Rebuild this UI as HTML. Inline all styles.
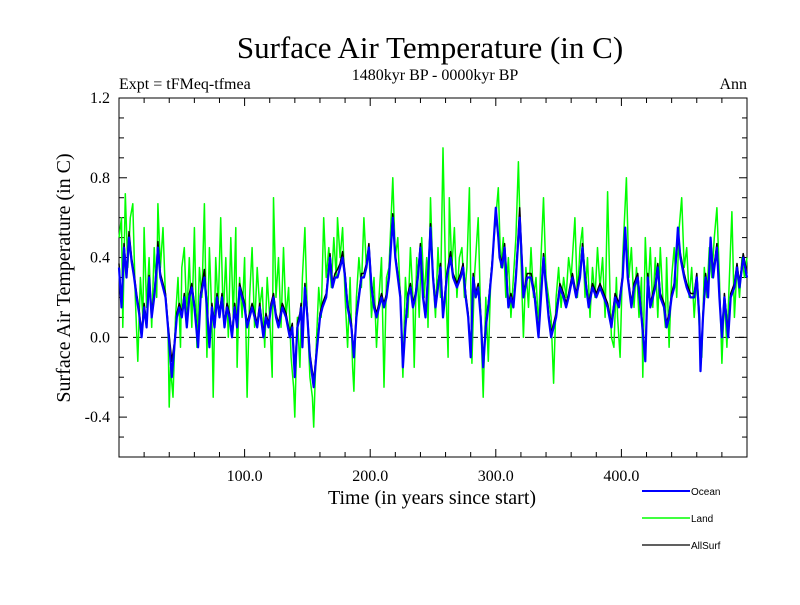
<!DOCTYPE html>
<html><head><meta charset="utf-8"><style>
body{margin:0;background:#fff}
svg text{font-family:"Liberation Serif",serif;fill:#000}
</style></head><body>
<svg width="800" height="600" xmlns="http://www.w3.org/2000/svg">
<text x="430" y="58" font-size="31" text-anchor="middle">Surface Air Temperature (in C)</text>
<text x="435" y="80" font-size="16" text-anchor="middle">1480kyr BP - 0000kyr BP</text>
<text x="119" y="89" font-size="16">Expt = tFMeq-tfmea</text>
<text x="747" y="89" font-size="16" text-anchor="end">Ann</text>
<text transform="translate(70,278) rotate(-90)" font-size="20" text-anchor="middle">Surface Air Temperature (in C)</text>
<text x="432" y="504" font-size="20" text-anchor="middle">Time (in years since start)</text>
<g id="axes"></g>
<g id="series"></g>
<g>
<line x1="642" y1="491" x2="690" y2="491" stroke="#0000ff" stroke-width="2"/>
<text x="691" y="495" font-size="10" style="font-family:'Liberation Sans',sans-serif">Ocean</text>
<line x1="642" y1="518" x2="690" y2="518" stroke="#00ff00" stroke-width="1.5"/>
<text x="691" y="522" font-size="10" style="font-family:'Liberation Sans',sans-serif">Land</text>
<line x1="642" y1="545" x2="690" y2="545" stroke="#000" stroke-width="1.2"/>
<text x="691" y="549" font-size="10" style="font-family:'Liberation Sans',sans-serif">AllSurf</text>
</g>
</svg>
<script>
const xTicks=[100,200,300,400];
const xTickLabels=["100.0","200.0","300.0","400.0"];
const yTicks=[-0.4,0,0.4,0.8,1.2];
const yTickLabels=["-0.4","0.0","0.4","0.8","1.2"];
const landYears=[0,2,3,5,7,9,11,13,15,17,19,20,22,24,26,28,30,31,33,35,37,39,40,41,43,45,47,49,50,52,54,56,58,60,62,64,66,68,70,72,74,75,77,79,81,83,85,87,89,91,93,94,96,98,100,102,104,106,108,110,112,114,116,118,120,122,123,125,127,129,131,133,135,137,139,140,142,144,146,148,150,152,154,155,157,159,161,163,165,167,169,171,173,174,176,178,180,182,184,186,187,189,191,193,195,197,199,201,203,205,207,209,211,213,215,218,220,222,224,226,228,230,232,234,235,237,239,241,243,245,246,248,250,252,254,256,258,260,262,263,265,267,269,271,273,275,277,279,281,283,286,288,290,292,294,296,298,300,302,304,306,308,310,312,314,316,318,320,322,324,326,328,330,332,334,336,338,340,342,344,346,348,350,352,354,356,358,360,363,365,367,369,371,373,375,377,379,381,383,385,387,389,391,392,394,396,397,399,401,404,406,408,410,412,414,416,417,419,421,423,425,427,429,431,433,435,436,438,440,442,444,446,448,450,452,454,456,458,460,462,464,466,468,470,472,474,476,478,480,482,484,486,488,490,492,494,496,498,500];
const landValues=[.5,.6,.05,.72,.35,.6,.67,.2,-.12,.3,.1,.55,.15,.4,.05,.45,.2,.67,.35,.55,.2,.05,-.35,-.15,-.3,.1,.3,-.05,.35,.45,.1,.4,.05,.55,-.05,.35,.2,.67,-.1,.45,.1,-.3,.4,.15,.6,.1,.4,0,.5,.1,.55,-.15,.3,.1,.4,-.3,.2,.45,.05,.35,.15,.25,-.05,.3,.1,-.2,.7,.2,.4,.05,.45,.1,.25,-.1,-.25,-.4,.1,-.15,.3,.55,.1,-.2,-.3,-.45,-.05,.25,.1,.6,.3,.45,.25,.5,.3,.6,.4,.55,.2,-.05,.3,-.15,-.27,.2,.4,.25,.6,.35,.45,.1,.3,-.05,.2,.4,-.25,.3,.35,.8,.4,.5,.2,-.2,.3,.1,.45,.2,-.15,.4,.1,.5,.2,.4,.05,.7,.3,.1,.45,.2,.95,.3,-.1,.7,.35,.55,.2,.4,.45,.2,.35,.75,-.13,.3,.6,.1,-.3,.2,-.12,.3,.45,.6,.75,.35,.5,.2,.4,.1,.3,.5,.88,.4,0,.35,.15,.45,.2,.3,.05,.4,.7,.3,.2,.1,-.23,.2,.35,.15,.3,.2,.4,.3,.6,.2,.45,.55,.2,.4,.1,.35,.2,.45,.25,.4,.1,.73,.2,0,-.05,.3,.1,-.1,.4,.8,.3,.45,.15,.35,.1,.3,-.2,.5,.2,.45,.15,.4,.1,.45,.2,.05,.4,-.05,.3,.45,.2,.55,.7,.35,.45,.2,.35,.1,.3,.05,-.1,.35,.2,.45,.3,.5,.65,.3,-.13,.2,-.05,.3,.63,.1,.35,.2,.4,.3,.4];
const oceanYears=[0,2,4,6,8,10,12,14,16,18,20,22,24,26,28,30,31,33,35,37,39,42,44,46,48,50,52,54,56,58,60,63,65,68,70,72,74,76,78,80,82,84,86,88,90,92,94,96,98,100,102,104,106,108,110,112,115,117,119,121,123,125,127,130,133,136,138,140,142,144,145,146,148,150,152,155,157,160,162,165,168,170,172,174,176,178,180,182,185,187,189,191,193,195,197,199,201,203,205,207,209,211,213,215,218,220,222,224,226,228,230,232,234,236,238,240,242,244,246,248,250,252,254,256,258,261,264,266,269,272,274,276,278,280,282,284,286,288,290,292,294,297,300,302,303,305,307,310,312,314,316,319,321,322,325,328,331,334,336,338,340,342,344,346,348,351,354,356,358,361,364,367,369,371,374,377,380,383,386,389,392,395,398,401,403,405,408,410,413,416,419,421,423,425,427,429,431,434,436,438,440,442,445,447,450,452,455,458,460,462,463,465,467,469,471,473,476,478,480,482,485,487,490,492,494,497,500];
const oceanValues=[.35,.15,.45,.3,.5,.38,.3,.2,.12,0,.15,.05,.3,.1,.2,.35,.45,.3,.25,.2,.05,-.2,-.05,.1,.15,.1,.2,.05,.2,.25,.15,-.05,.2,.3,.15,-.05,.15,.05,.2,.1,.2,.05,.15,.1,0,.15,.05,.25,.2,.15,.05,.1,.15,.1,.05,.15,0,.1,.05,.15,.2,.1,.05,.15,.1,0,.05,-.2,.05,.1,.15,-.05,.25,.1,-.1,-.25,-.1,.1,.15,.2,.4,.25,.3,.3,.35,.4,.3,.15,.05,-.1,.1,.2,.3,.3,.35,.45,.25,.15,.1,.15,.2,.15,.2,.3,.6,.4,.3,.2,-.15,.05,.2,.25,.15,.2,.3,.45,.2,.1,.3,.55,.3,.15,.25,.35,.1,.3,.4,.3,.25,.3,.35,.2,.1,-.1,.3,.2,.25,.1,-.15,.05,.15,.35,.65,.5,.4,.35,.45,.15,.2,.15,.3,.6,.35,.2,.3,.3,.2,0,.2,.4,.25,.1,0,.05,.1,.25,.2,.15,.2,.3,.2,.3,.45,.3,.15,.25,.2,.25,.2,.15,.05,.2,.15,.3,.55,.3,.15,.25,.3,.1,-.12,.3,.15,.2,.25,.35,.2,.15,.05,.1,.2,.25,.55,.4,.3,.25,.2,.2,.3,.1,-.17,.1,.3,.2,.5,.3,.45,.2,0,.2,0,.2,.25,.35,.25,.4,.3];
const allValues=[.37,.17,.47,.32,.53,.4,.32,.22,.14,.02,.17,.07,.31,.12,.22,.37,.48,.32,.27,.22,.07,-.12,-.03,.12,.17,.12,.22,.07,.22,.27,.17,-.03,.22,.34,.17,-.03,.17,.07,.22,.12,.22,.07,.17,.12,.02,.17,.07,.27,.22,.17,.07,.12,.17,.12,.07,.17,.02,.12,.07,.17,.22,.12,.07,.17,.12,.02,.07,-.17,.07,.12,.17,-.03,.27,.12,-.08,-.22,-.08,.12,.17,.22,.42,.27,.32,.34,.37,.43,.32,.17,.07,-.08,.12,.22,.32,.32,.37,.47,.27,.17,.12,.17,.22,.17,.22,.32,.62,.42,.32,.22,-.12,.07,.22,.27,.17,.22,.32,.47,.22,.12,.32,.57,.32,.17,.27,.37,.12,.32,.43,.32,.27,.32,.37,.22,.12,-.08,.32,.22,.27,.12,-.12,.07,.17,.37,.62,.5,.42,.37,.47,.17,.22,.17,.32,.65,.37,.22,.32,.32,.22,.02,.22,.42,.27,.12,.02,.07,.12,.27,.22,.17,.22,.32,.22,.32,.47,.32,.17,.27,.22,.27,.22,.17,.07,.22,.17,.32,.55,.32,.17,.27,.32,.12,-.1,.32,.17,.22,.27,.37,.22,.17,.07,.12,.22,.27,.5,.42,.32,.27,.22,.22,.32,.12,-.15,.12,.32,.22,.5,.32,.47,.22,.02,.22,.02,.22,.27,.37,.27,.42,.32];

const NS="http://www.w3.org/2000/svg";
const L=119,R=747,T=98,B=457,XMIN=0,XMAX=500,YMIN=-0.6,YMAX=1.2;
function xs(v){return L+(v-XMIN)/(XMAX-XMIN)*(R-L);}
function ys(v){return B-(v-YMIN)/(YMAX-YMIN)*(B-T);}
function mk(tag,attrs){const e=document.createElementNS(NS,tag);for(const k in attrs)e.setAttribute(k,attrs[k]);return e;}
const axes=document.getElementById('axes'),series=document.getElementById('series');

const frame=mk('rect',{x:L,y:T,width:R-L,height:B-T,fill:'none',stroke:'#000','stroke-width':1});


axes.appendChild(frame);
const zero=mk('line',{x1:L,x2:R,y1:ys(0),y2:ys(0),stroke:'#000','stroke-width':1,'stroke-dasharray':'9,5'});


axes.appendChild(zero);
for(let v=20;v<XMAX;v+=20){
  const major=v%100===0,len=major?8:5;
  const t1=mk('line',{x1:xs(v),x2:xs(v),y1:B,y2:B-len,stroke:'#000'});
  
  
  axes.appendChild(t1);
  const t2=mk('line',{x1:xs(v),x2:xs(v),y1:T,y2:T+len,stroke:'#000'});
  
  
  axes.appendChild(t2);
}
for(let i=-5;i<12;i++){
  const v=i/10,major=Math.abs(v*10%4)<0.01,len=major?8:5;
  const t1=mk('line',{x1:L,x2:L+len,y1:ys(v),y2:ys(v),stroke:'#000'});
  
  
  axes.appendChild(t1);
  const t2=mk('line',{x1:R,x2:R-len,y1:ys(v),y2:ys(v),stroke:'#000'});
  
  
  axes.appendChild(t2);
}
xTicks.forEach((v,i)=>{
  const t=mk('text',{x:xs(v),y:481,'font-size':16,'text-anchor':'middle'});
  t.textContent=xTickLabels[i];
  
  
  axes.appendChild(t);
});
yTicks.forEach((v,i)=>{
  const t=mk('text',{x:110,y:ys(v)+5,'font-size':16,'text-anchor':'end'});
  t.textContent=yTickLabels[i];
  
  
  axes.appendChild(t);
});
function line(xsArr,vals,color,w,name){
  const d=xsArr.map((x,i)=>(i?'L':'M')+xs(x).toFixed(1)+','+ys(vals[i]).toFixed(1)).join('');
  const p=mk('path',{d:d,fill:'none',stroke:color,'stroke-width':w,'stroke-linejoin':'round'});
  
  
  series.appendChild(p);
}
line(landYears,landValues,'#00ff00',1.5,'land-line');
line(oceanYears,allValues,'#000000',1.5,'allsurf-line');
line(oceanYears,oceanValues,'#0000ff',2.2,'ocean-line');
</script>
</body></html>
